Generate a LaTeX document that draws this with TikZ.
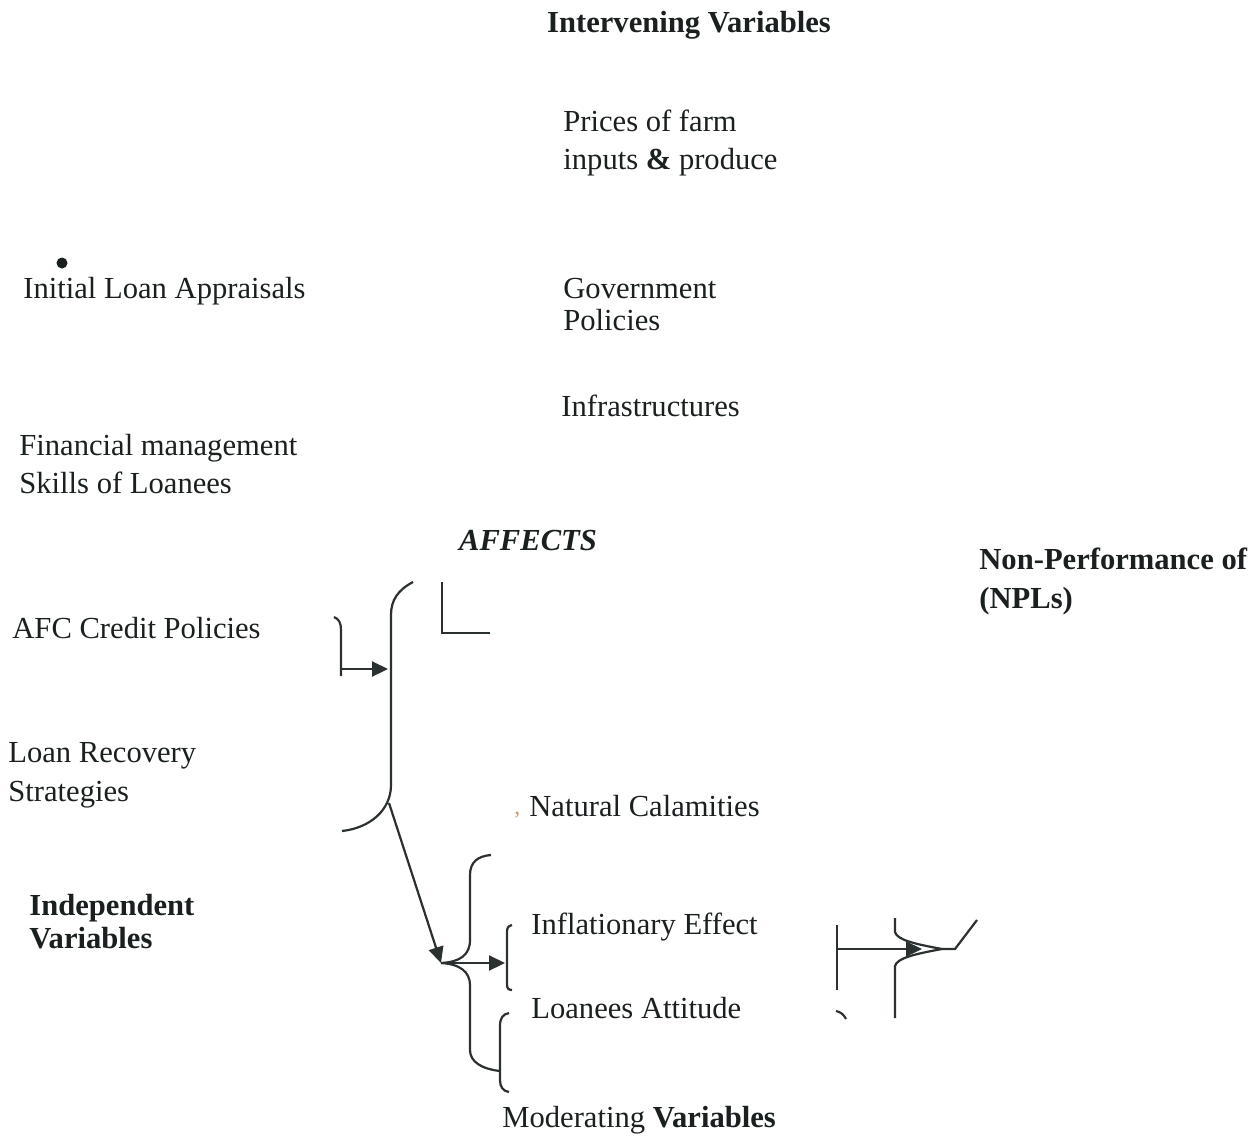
\documentclass[tikz,border=0pt]{standalone}
\usepackage{fontspec}
\setmainfont{Liberation Serif}
\usepackage{tikz}
\usetikzlibrary{arrows.meta}

\definecolor{inkline}{HTML}{2B3030}
\definecolor{inktext}{HTML}{1A1F1F}
\definecolor{tan}{HTML}{C8A070}

\begin{document}
\begin{tikzpicture}[x=0.5pt, y=-0.5pt,
    lbl/.style={anchor=base west, inner sep=0pt, align=left, text=inktext, font=\fontsize{15.3}{19}\selectfont},
    bracket/.style={draw=inkline, line width=1.1pt},
    arr/.style={draw=inkline, line width=1.1pt, -{Triangle[length=8pt, width=7.5pt]}}]
    \useasboundingbox (0,0) rectangle (1255,1136);

    % Intervening variables
    \node[lbl, anchor=base] (intervening) at (689,32) {\textbf{Intervening Variables}};
    \node[lbl] (prices) at (563,169) {Prices of farm\\inputs \textbf{\&} produce};
    \node[lbl, font=\fontsize{15.3}{16}\selectfont] (govt) at (563,330) {Government\\Policies};
    \node[lbl] (infra) at (561,416) {Infrastructures};

    % Independent variables
    \fill[inktext] (62,263) circle (5.5);
    \node[lbl] (appraisal) at (23,298) {Initial Loan Appraisals};
    \node[lbl] (finskills) at (19,493) {Financial management\\Skills of Loanees};
    \node[lbl] (afcpolicy) at (12,638) {AFC Credit Policies};
    \node[lbl, font=\fontsize{15.3}{19.5}\selectfont] (recovery) at (8,801) {Loan Recovery\\Strategies};
    \node[lbl, font=\fontsize{15.3}{16.5}\selectfont] (independent) at (29,948) {\textbf{Independent}\\\textbf{Variables}};

    \node[lbl, anchor=base] (affects) at (528,550) {\textbf{\textit{AFFECTS}}};
    \node[lbl, font=\fontsize{15.3}{19.5}\selectfont] (npl) at (979,608) {\textbf{Non-Performance of}\\\textbf{(NPLs)}};

    % Moderating variables
    \node[lbl, text=tan, font=\fontsize{12}{14}\selectfont] (comma) at (514,814) {,};
    \node[lbl] (calamity) at (529,816) {Natural Calamities};
    \node[lbl] (inflation) at (531,934) {Inflationary Effect};
    \node[lbl] (attitude) at (531,1018) {Loanees Attitude};
    \node[lbl] (moderating) at (502,1127) {Moderating \textbf{Variables}};

    % fork points
    \coordinate (indin) at (341,669);
    \coordinate (indbrace) at (388,669);
    \coordinate (indfork) at (389,803);
    \coordinate (modfork) at (441,963);
    \coordinate (modout) at (445,963);
    \coordinate (modin) at (505,963);
    \coordinate (nplin) at (837,949);
    \coordinate (npltip) at (922,949);
    \coordinate (nplpoint) at (942,949);

    % brace of independent variables
    \draw[bracket] (334,617) .. controls (339,619) and (341,623) .. (341,630) -- (341,676);
    \draw[arr] (indin) -- (indbrace);
    \draw[bracket] (413,582) .. controls (398,590) and (391,600) .. (391,615) -- (391,785)
        .. controls (391,810) and (370,828) .. (342,831);
    \draw[bracket] (442,582) -- (442,633) -- (490,633);
    \draw[arr] (indfork) -- (modfork);

    % brace of moderating variables
    \draw[bracket] (modfork) .. controls (460,962) and (470,955) .. (470,940) -- (470,875)
        .. controls (470,862) and (478,856) .. (491,855);
    \draw[bracket] (modfork) .. controls (460,964) and (470,972) .. (470,985) -- (470,1050)
        .. controls (470,1062) and (482,1069) .. (500,1071);
    \draw[arr] (modout) -- (modin);
    \draw[bracket] (512,925) .. controls (508,926) and (507,928) .. (507,932) -- (507,984)
        .. controls (507,988) and (508,990) .. (512,990);
    \draw[bracket] (509,1013) .. controls (503,1014) and (500,1018) .. (500,1026) -- (500,1080)
        .. controls (500,1087) and (503,1091) .. (509,1092);

    % into the NPLs
    \draw[bracket] (837,925) -- (837,990);
    \draw[bracket] (836,1011) .. controls (841,1012) and (844,1015) .. (846,1019);
    \draw[arr] (nplin) -- (npltip);
    \draw[bracket] (895,918) -- (895,932) .. controls (897,940) and (915,944) .. (nplpoint);
    \draw[bracket] (nplpoint) .. controls (915,954) and (897,958) .. (895,966) -- (895,1018);
    \draw[bracket] (nplpoint) -- (955,949) -- (977,920);
\end{tikzpicture}
\end{document}
